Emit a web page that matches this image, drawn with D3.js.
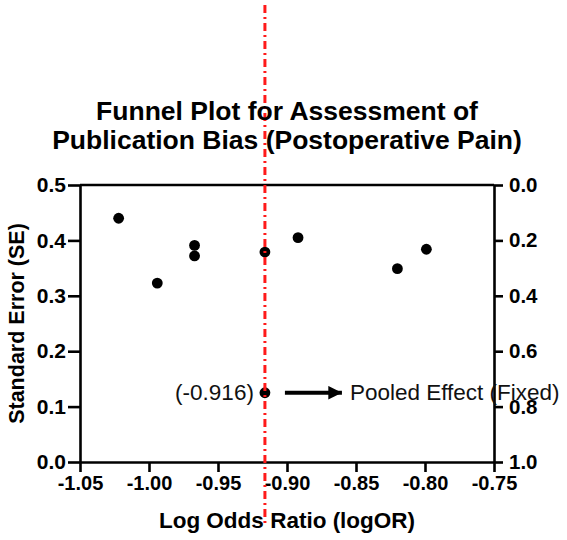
<!DOCTYPE html>
<html>
<head>
<meta charset="utf-8">
<script src="https://cdn.jsdelivr.net/npm/d3@7"></script>
<style>
  body { margin: 0; background: #fff; }
  svg { display: block; font-family: 'Liberation Sans', Arial, sans-serif; }
</style>
</head>
<body>
<div id="chart"></div>
<script>
// Study estimates
const logOR = [-1.022, -0.994, -0.967, -0.967, -0.916, -0.892, -0.820, -0.799];
const se = [0.440, 0.323, 0.391, 0.372, 0.379, 0.405, 0.349, 0.384];

// Pooled (fixed) effect
const pooledLogOR = -0.916;
const pooledSE = 0.125;

// Ticks
const xTicks = [-1.05, -1.00, -0.95, -0.90, -0.85, -0.80, -0.75];
const yTicks = [0.0, 0.1, 0.2, 0.3, 0.4, 0.5];
const yRightTicks = [0.0, 0.2, 0.4, 0.6, 0.8, 1.0];

const titleLines = ['Funnel Plot for Assessment of', 'Publication Bias (Postoperative Pain)'];

const width = 567;
const height = 540;
const margin = { top: 185, right: 73, bottom: 78, left: 80 };
const w = width - margin.left - margin.right;
const h = height - margin.top - margin.bottom;

const svg = d3.select('#chart')
  .append('svg')
  .attr('width', width)
  .attr('height', height);

const chart = svg.append('g').attr('transform', `translate(${margin.left}, ${margin.top})`);

const xScale = d3.scaleLinear().domain([-1.05, -0.75]).range([0, w]);
const yScale = d3.scaleLinear().domain([0, 0.5]).range([h, 0]);
const yRight = d3.scaleLinear().domain([0, 1]).range([0, h]);

const fmt2 = (d) => d.toFixed(2);
const fmt1 = (d) => d.toFixed(1);

// Axes
const styleAxis = (g, size) => {
  g.selectAll('path, line').attr('stroke', '#000').attr('stroke-width', 2.6);
  g.selectAll('text').attr('fill', '#000').attr('font-size', size).attr('font-weight', 'bold');
};

chart.append('g')
  .attr('transform', `translate(0, ${h})`)
  .call(d3.axisBottom(xScale).tickValues(xTicks).tickFormat(fmt2).tickSize(10).tickSizeOuter(0).tickPadding(4))
  .call((g) => styleAxis(g, '20px'));

chart.append('g')
  .call(d3.axisLeft(yScale).tickValues(yTicks).tickFormat(fmt1).tickSize(12).tickSizeOuter(0).tickPadding(2))
  .call((g) => styleAxis(g, '21px'));

chart.append('g')
  .attr('transform', `translate(${w}, 0)`)
  .call(d3.axisRight(yRight).tickValues(yRightTicks).tickFormat(fmt1).tickSize(9).tickSizeOuter(0).tickPadding(6))
  .call((g) => styleAxis(g, '20.5px'));

// top frame line
chart.append('line')
  .attr('x1', 0).attr('x2', w)
  .attr('y1', 0).attr('y2', 0)
  .attr('stroke', '#000')
  .attr('stroke-width', 2.6);

// Study points
chart.selectAll('circle.study')
  .data(logOR.map((d, i) => ({ x: d, y: se[i] })))
  .enter()
  .append('circle')
  .attr('class', 'study')
  .attr('cx', (d) => xScale(d.x))
  .attr('cy', (d) => yScale(d.y))
  .attr('r', 5.4)
  .attr('fill', '#000');

// Pooled point
chart.append('circle')
  .attr('cx', xScale(pooledLogOR))
  .attr('cy', yScale(pooledSE))
  .attr('r', 5.4)
  .attr('fill', '#000');

// Annotation
chart.append('text')
  .attr('x', xScale(pooledLogOR) - 11)
  .attr('y', yScale(pooledSE) + 7.5)
  .attr('text-anchor', 'end')
  .attr('font-size', '22.5px')
  .attr('fill', '#111')
  .text(`(${pooledLogOR.toFixed(3)})`);

svg.append('defs').append('marker')
  .attr('id', 'arrow')
  .attr('viewBox', '0 0 10 10')
  .attr('refX', 10).attr('refY', 5)
  .attr('markerWidth', 5).attr('markerHeight', 3.4)
  .attr('markerUnits', 'strokeWidth')
  .attr('orient', 'auto')
  .append('path')
  .attr('d', 'M0,0L10,5L0,10Z')
  .attr('fill', '#000');

chart.append('line')
  .attr('x1', xScale(pooledLogOR) + 20)
  .attr('x2', xScale(pooledLogOR) + 77)
  .attr('y1', yScale(pooledSE))
  .attr('y2', yScale(pooledSE))
  .attr('stroke', '#000')
  .attr('stroke-width', 4)
  .attr('marker-end', 'url(#arrow)');

chart.append('text')
  .attr('x', xScale(pooledLogOR) + 85)
  .attr('y', yScale(pooledSE) + 7)
  .attr('font-size', '22.5px')
  .attr('fill', '#111')
  .text('Pooled Effect (Fixed)');

// Reference line at pooled effect, drawn over the points
chart.append('line')
  .attr('x1', xScale(pooledLogOR))
  .attr('x2', xScale(pooledLogOR))
  .attr('y1', 5 - margin.top)
  .attr('y2', 523 - margin.top)
  .attr('stroke', '#ff1a1a')
  .attr('stroke-width', 3)
  .attr('stroke-dasharray', '8,4,2,4');

// Title
svg.append('text')
  .attr('x', margin.left + w / 2)
  .attr('y', 120)
  .attr('text-anchor', 'middle')
  .attr('font-size', '26.5px')
  .attr('font-weight', 'bold')
  .selectAll('tspan')
  .data(titleLines)
  .enter()
  .append('tspan')
  .attr('x', margin.left + w / 2)
  .attr('dy', (d, i) => (i === 0 ? 0 : 28.5))
  .text((d) => d);

// Axis labels
svg.append('text')
  .attr('x', margin.left + w / 2)
  .attr('y', 528)
  .attr('text-anchor', 'middle')
  .attr('font-size', '22.5px')
  .attr('font-weight', 'bold')
  .text('Log Odds Ratio (logOR)');

svg.append('text')
  .attr('transform', `translate(24, ${margin.top + h / 2}) rotate(-90)`)
  .attr('text-anchor', 'middle')
  .attr('font-size', '21.5px')
  .attr('font-weight', 'bold')
  .text('Standard Error (SE)');
</script>
</body>
</html>
